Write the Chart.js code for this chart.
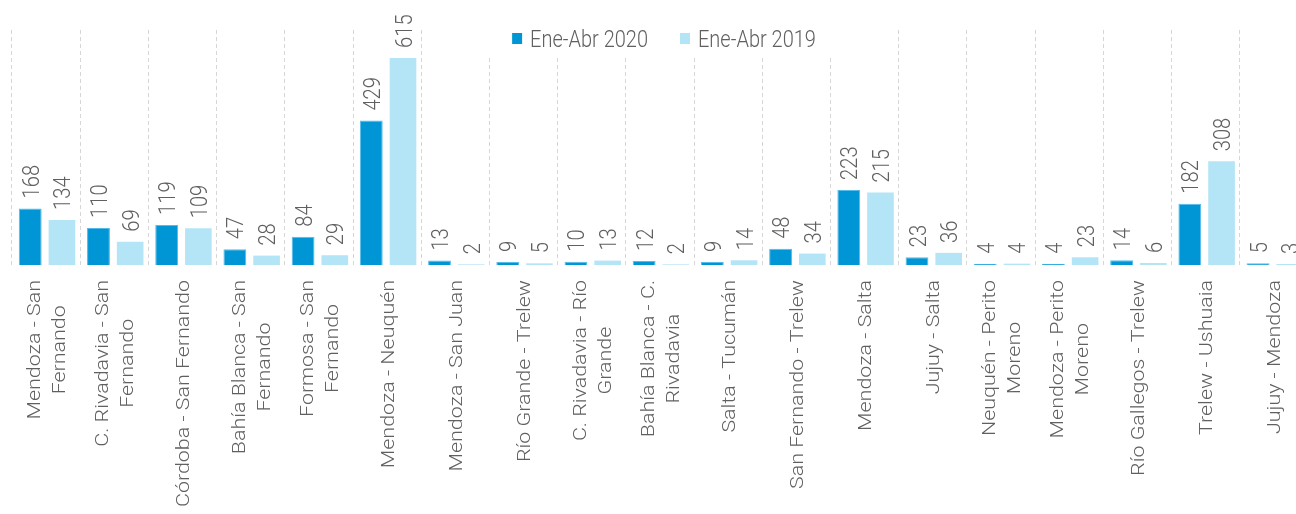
<!DOCTYPE html>
<html>
<head>
<meta charset="utf-8">
<script src="https://cdn.jsdelivr.net/npm/chart.js@4.4.1/dist/chart.umd.min.js"></script>
<style>
html,body{margin:0;padding:0;overflow:hidden;background:#fff;width:1296px;height:514px}
#wrap{width:1312px;height:514px}
</style>
</head>
<body>
<div id="wrap"><canvas id="c" width="1312" height="514"></canvas></div>
<script>
// ---- data ----
const categories = [
  ["Mendoza - San", "Fernando"],
  ["C. Rivadavia - San", "Fernando"],
  ["Córdoba - San Fernando"],
  ["Bahía Blanca - San", "Fernando"],
  ["Formosa - San", "Fernando"],
  ["Mendoza - Neuquén"],
  ["Mendoza - San Juan"],
  ["Río Grande - Trelew"],
  ["C. Rivadavia - Río", "Grande"],
  ["Bahía Blanca - C.", "Rivadavia"],
  ["Salta - Tucumán"],
  ["San Fernando - Trelew"],
  ["Mendoza - Salta"],
  ["Jujuy - Salta"],
  ["Neuquén - Perito", "Moreno"],
  ["Mendoza - Perito", "Moreno"],
  ["Río Gallegos - Trelew"],
  ["Trelew - Ushuaia"],
  ["Jujuy - Mendoza"]
];
const seriesNames = ["Ene-Abr 2020", "Ene-Abr 2019"];
const values2020 = [168, 110, 119, 47, 84, 429, 13, 9, 10, 12, 9, 48, 223, 23, 4, 4, 14, 182, 5];
const values2019 = [134, 69, 109, 28, 29, 615, 2, 5, 13, 2, 14, 34, 215, 36, 4, 23, 6, 308, 3];

// ---- style ----
const DARK = "#0096D6", DARK_BORDER = "#55BCEA", LIGHT = "#B4E5F6";
const TEXT = "#606060";
const FAMILY = "Roboto, 'Noto Sans', sans-serif";
const WEIGHT = 300;
const LABEL_FS = 24, LABEL_SX = 0.84;   // value labels
const CAT_FS = 18, CAT_SX = 1.19;       // category labels
const LEG_FS = 23.5, LEG_SX = 0.85;     // legend

function setFont(ctx, fs){ ctx.font = WEIGHT + " " + fs + "px " + FAMILY; }

// text rotated -90deg, ink centred on cx
function drawRotated(ctx, text, cx, y, align, fs, sx){
  ctx.save();
  ctx.translate(cx + 0.355 * fs, y);
  ctx.rotate(-Math.PI / 2);
  ctx.scale(sx, 1);
  ctx.textAlign = align;
  ctx.textBaseline = "alphabetic";
  ctx.fillText(text, 0, 0);
  ctx.restore();
}

const textPlugin = {
  id: "textPlugin",
  beforeDatasetsDraw(chart){
    // white legend backdrop over the grid lines
    const ctx = chart.ctx;
    ctx.save();
    ctx.fillStyle = "#fff";
    ctx.fillRect(440, 20, 440, 37);
    ctx.restore();
  },
  afterDatasetsDraw(chart){
    const ctx = chart.ctx;
    ctx.save();
    ctx.fillStyle = TEXT;
    // value labels
    setFont(ctx, LABEL_FS);
    chart.data.datasets.forEach((ds, di) => {
      const meta = chart.getDatasetMeta(di);
      meta.data.forEach((bar, i) => {
        drawRotated(ctx, String(ds.data[i]), bar.x, bar.y - 10, "left", LABEL_FS, LABEL_SX);
      });
    });
    // category labels
    setFont(ctx, CAT_FS);
    const xs = chart.scales.x;
    const pitch = 25;
    categories.forEach((lines, i) => {
      const cx = xs.getPixelForValue(i);
      let maxW = 0;
      lines.forEach(l => { maxW = Math.max(maxW, ctx.measureText(l).width * CAT_SX); });
      const yc = 280 + maxW / 2;
      lines.forEach((l, k) => {
        const lx = cx + (k - (lines.length - 1) / 2) * pitch;
        drawRotated(ctx, l, lx, yc, "center", CAT_FS, CAT_SX);
      });
    });
    // legend
    setFont(ctx, LEG_FS);
    const items = chart.data.datasets.map(d => ({label: d.label, color: d.backgroundColor}));
    const box = 10, gapBox = 8, gapItem = 32;
    const widths = items.map(it => ctx.measureText(it.label).width * LEG_SX);
    const total = widths.reduce((a, w) => a + box + gapBox + w, 0) + gapItem * (items.length - 1);
    let x = 664 - total / 2;
    const base = 46.5;
    items.forEach((it, k) => {
      ctx.fillStyle = it.color;
      ctx.fillRect(x, 33, box, 11);
      x += box + gapBox;
      ctx.fillStyle = TEXT;
      ctx.save();
      ctx.translate(x, base);
      ctx.scale(LEG_SX, 1);
      ctx.textAlign = "left";
      ctx.textBaseline = "alphabetic";
      ctx.fillText(it.label, 0, 0);
      ctx.restore();
      x += widths[k] + gapItem;
    });
    ctx.restore();
  }
};

new Chart(document.getElementById("c"), {
  type: "bar",
  data: {
    labels: categories.map(l => l.join(" ")),
    datasets: [
      {label: seriesNames[0], data: values2020, backgroundColor: DARK, borderColor: DARK_BORDER,
       borderWidth: 1, barPercentage: 0.72, categoryPercentage: 0.93},
      {label: seriesNames[1], data: values2019, backgroundColor: LIGHT, borderColor: LIGHT,
       borderWidth: 0, barPercentage: 0.84, categoryPercentage: 0.93}
    ]
  },
  options: {
    responsive: false,
    animation: false,
    layout: {padding: {left: 12, right: 4, top: 30, bottom: 249}},
    plugins: {legend: {display: false}, tooltip: {enabled: false}},
    scales: {
      x: {
        display: true,
        grid: {display: true, offset: true, color: "#d6d6d6", lineWidth: 1, drawTicks: false, tickLength: 0},
        border: {display: false, dash: [4, 3]},
        ticks: {display: false}
      },
      y: {display: false, min: 0, max: 698}
    }
  },
  plugins: [textPlugin]
});
</script>
</body>
</html>
